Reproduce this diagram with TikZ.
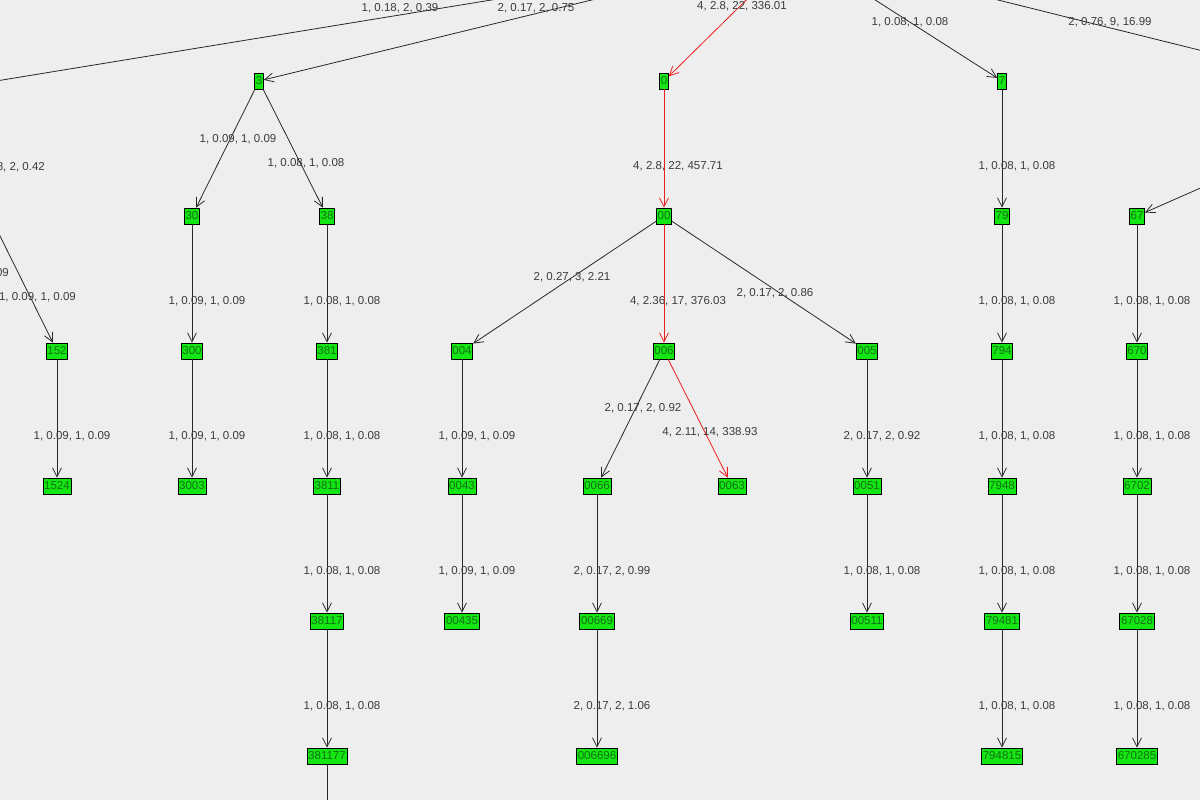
\documentclass[tikz,border=0pt]{standalone}
\usepackage{fontspec}
\setmainfont{Liberation Sans}
\usetikzlibrary{arrows.meta}
\definecolor{TreeBgColor}{RGB}{238,238,238}
\definecolor{TreeNodeColor}{RGB}{20,230,20}
\definecolor{TreeTextColor}{RGB}{20,110,20}
\definecolor{TreeEdgeColor}{RGB}{40,40,40}
\definecolor{TreeHotColor}{RGB}{235,30,30}
\definecolor{TreeLabelColor}{RGB}{60,60,60}
\begin{document}
\begin{tikzpicture}[x=1pt,y=-1pt,font=\fontsize{11.5}{12}\selectfont,
  vtx/.style={draw=black,fill=TreeNodeColor,text=TreeTextColor,inner xsep=1.2pt,inner ysep=0.5pt,minimum height=16pt,line width=0.7pt},
  edg/.style={TreeEdgeColor,line width=0.8pt,-{Straight Barb[length=9pt,width=9pt]}},
  hot/.style={edg,TreeHotColor},
  lbl/.style={text=TreeLabelColor,inner sep=0pt}]
    \fill[TreeBgColor] (0,0) rectangle (1200,800);
    \clip (0,0) rectangle (1200,800);
    % hidden parts above and left of the view
    \coordinate (root) at (797,-50);
    \coordinate (l1) at (-120,100);
    \coordinate (l2) at (-60,115);
    \coordinate (r1) at (1400,100);
    \coordinate (down) at (327,850);
    % level 1
    \node[vtx](n3) at (259,81) {3};
    \node[vtx](n0) at (664,81) {0};
    \node[vtx](n7) at (1002,81) {7};
    % level 2
    \node[vtx](n30) at (192,216) {30};
    \node[vtx](n38) at (327,216) {38};
    \node[vtx](n00) at (664,216) {00};
    \node[vtx](n79) at (1002,216) {79};
    \node[vtx](n67) at (1137,216) {67};
    % level 3
    \foreach \x/\n in {57/152,192/300,327/381,462/004,664/006,867/005,1002/794,1137/670} {
       \node[vtx](n\n) at (\x,351) {\n};
    }
    % level 4
    \foreach \x/\n in {57/1524,192/3003,327/3811,462/0043,597/0066,732/0063,867/0051,1002/7948,1137/6702} {
       \node[vtx](n\n) at (\x,486) {\n};
    }
    % level 5
    \foreach \x/\n in {327/38117,462/00435,597/00669,867/00511,1002/79481,1137/67028} {
       \node[vtx](n\n) at (\x,621) {\n};
    }
    % level 6
    \foreach \x/\n in {327/381177,597/006696,1002/794815,1137/670285} {
       \node[vtx](n\n) at (\x,756) {\n};
    }
    % edges
    \draw[edg] (root) -- (l1);
    \draw[edg] (root) -- (n3);
    \draw[hot] (root) -- (n0);
    \draw[edg] (root) -- (n7);
    \draw[edg] (root) -- (r1);
    \draw[edg] (r1) -- (n67);
    \draw[edg] (l2) -- (n152);
    \draw[edg] (n3) -- (n30);
    \draw[edg] (n3) -- (n38);
    \draw[hot] (n0) -- (n00);
    \draw[edg] (n7) -- (n79);
    \draw[edg] (n00) -- (n004);
    \draw[hot] (n00) -- (n006);
    \draw[edg] (n00) -- (n005);
    \draw[edg] (n006) -- (n0066);
    \draw[hot] (n006) -- (n0063);
    \foreach \a/\b in {30/300,38/381,79/794,67/670,152/1524,300/3003,381/3811,004/0043,005/0051,794/7948,670/6702,
                       3811/38117,0043/00435,0066/00669,0051/00511,7948/79481,6702/67028,
                       38117/381177,00669/006696,79481/794815,67028/670285} {
       \draw[edg] (n\a) -- (n\b);
    }
    \draw[TreeEdgeColor,line width=0.8pt] (n381177) -- (down);
    % edge labels
    \foreach \x/\y/\t in {400/8/{1, 0.18, 2, 0.39},536/8/{2, 0.17, 2, 0.75},742/6/{4, 2.8, 22, 336.01},
        910/22/{1, 0.08, 1, 0.08},1110/22/{2, 0.76, 9, 16.99},
        238/139/{1, 0.09, 1, 0.09},306/163/{1, 0.08, 1, 0.08},678/166/{4, 2.8, 22, 457.71},1017/166/{1, 0.08, 1, 0.08},
        207/301/{1, 0.09, 1, 0.09},342/301/{1, 0.08, 1, 0.08},572/277/{2, 0.27, 3, 2.21},678/301/{4, 2.36, 17, 376.03},
        775/293/{2, 0.17, 2, 0.86},1017/301/{1, 0.08, 1, 0.08},1152/301/{1, 0.08, 1, 0.08},
        72/436/{1, 0.09, 1, 0.09},207/436/{1, 0.09, 1, 0.09},342/436/{1, 0.08, 1, 0.08},477/436/{1, 0.09, 1, 0.09},
        643/408/{2, 0.17, 2, 0.92},710/432/{4, 2.11, 14, 338.93},882/436/{2, 0.17, 2, 0.92},
        1017/436/{1, 0.08, 1, 0.08},1152/436/{1, 0.08, 1, 0.08},
        342/571/{1, 0.08, 1, 0.08},477/571/{1, 0.09, 1, 0.09},612/571/{2, 0.17, 2, 0.99},882/571/{1, 0.08, 1, 0.08},
        1017/571/{1, 0.08, 1, 0.08},1152/571/{1, 0.08, 1, 0.08},
        342/706/{1, 0.08, 1, 0.08},612/706/{2, 0.17, 2, 1.06},1017/706/{1, 0.08, 1, 0.08},1152/706/{1, 0.08, 1, 0.08}} {
       \node[lbl] at (\x,\y) {\t};
    }
    \node[lbl,anchor=east] at (45,167) {1, 0.18, 2, 0.42};
    \node[lbl,anchor=east] at (9,273) {1, 0.09, 1, 0.09};
    \node[lbl,anchor=east] at (76,297) {1, 0.09, 1, 0.09};
\end{tikzpicture}
\end{document}
